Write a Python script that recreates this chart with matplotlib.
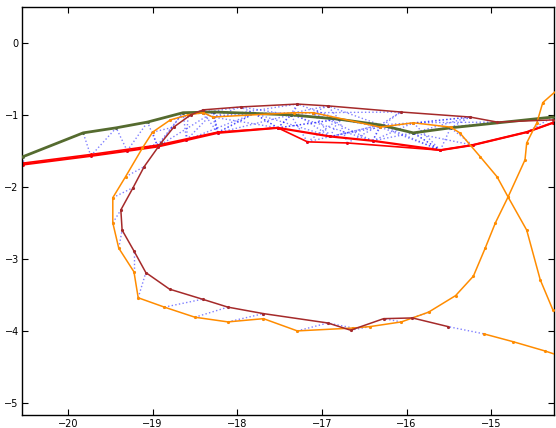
import matplotlib
matplotlib.use("Agg")
import matplotlib.pyplot as plt

# ── Trajectories (x, y) ───────────────────────────────────────────────────────

orange_x = [-15.09, -14.74, -14.36, -14.00, -14.10, -14.245, -14.39, -14.46, -14.58, -14.60,
            -14.80, -14.95, -15.07, -15.21, -15.42, -15.74, -16.06, -16.43, -16.63, -17.29,
            -17.69, -18.11, -18.50, -18.86, -19.17, -19.22, -19.40, -19.47, -19.47, -19.32,
            -19.12, -19.00, -18.79, -18.58, -18.40, -18.29, -17.33, -17.10, -16.31, -15.92,
            -15.48, -15.37, -15.13, -14.93, -14.80, -14.58, -14.42, -14.27, -14.10]
orange_y = [-4.04, -4.15, -4.28, -4.42, -0.53, -0.68, -0.83, -1.11, -1.39, -1.625,
            -2.14, -2.50, -2.85, -3.24, -3.51, -3.74, -3.875, -3.94, -3.96, -4.00,
            -3.83, -3.875, -3.81, -3.67, -3.54, -3.18, -2.85, -2.50, -2.15, -1.86,
            -1.46, -1.24, -1.07, -1.00, -0.97, -1.03, -0.97, -0.97, -1.17, -1.11,
            -1.17, -1.25, -1.58, -1.86, -2.14, -2.60, -3.29, -3.71, -3.95]

brown_x = [-14.27, -14.93, -15.25, -16.07, -16.93, -17.29, -17.96, -18.40, -18.55, -18.75,
           -18.90, -19.10, -19.23, -19.375, -19.36, -19.22, -19.08, -18.80, -18.41, -18.11,
           -17.69, -16.93, -16.66, -16.27, -15.93, -15.51]
brown_y = [-1.07, -1.10, -1.03, -0.96, -0.875, -0.85, -0.89, -0.93, -1.00, -1.17,
           -1.39, -1.72, -2.01, -2.32, -2.60, -2.89, -3.19, -3.42, -3.56, -3.67,
           -3.76, -3.89, -3.99, -3.83, -3.82, -3.94]

green_x = [-20.70, -20.53, -19.82, -19.43, -19.06, -18.64, -18.28, -17.80, -17.37, -16.80,
           -16.31, -15.92, -15.48, -14.27, -14.10]
green_y = [-1.65, -1.58, -1.25, -1.18, -1.10, -0.97, -0.96, -0.98, -1.00, -1.06,
           -1.14, -1.25, -1.18, -1.03, -1.01]

red_x = [-20.70, -20.53, -19.73, -19.30, -18.94, -18.60, -18.23, -17.52, -16.90, -16.40,
         -15.60, -15.22, -14.58, -14.27, -14.10]
red_y = [-1.72, -1.69, -1.57, -1.50, -1.44, -1.35, -1.25, -1.18, -1.30, -1.36,
         -1.49, -1.42, -1.24, -1.11, -1.05]

red2_x = [-20.70, -20.53, -19.73, -18.94, -18.23, -17.52, -17.17, -16.70, -15.60, -15.22,
          -14.58, -14.27, -14.10]
red2_y = [-1.70, -1.67, -1.55, -1.42, -1.24, -1.18, -1.375, -1.39, -1.49, -1.42,
          -1.24, -1.11, -1.05]

# ── Correspondences drawn as blue dotted links (index pairs) ──────────────────

orange_brown_links = [(0, 25), (15, 24), (16, 23), (17, 22), (18, 21), (19, 21), (20, 20),
                      (21, 20), (22, 19), (23, 18), (24, 16), (25, 15), (26, 14), (27, 13),
                      (28, 12), (29, 11), (30, 10), (31, 9), (32, 8), (33, 7), (34, 7),
                      (35, 6), (35, 5), (36, 4), (37, 3), (38, 3), (39, 2), (40, 1),
                      (34, 6), (36, 5), (37, 4), (38, 2), (39, 1)]
red_green_links = [(1, 1), (2, 2), (2, 3), (3, 3), (3, 4), (4, 4), (4, 5), (5, 5), (5, 6),
                   (6, 6), (6, 7), (7, 7), (7, 8), (8, 7), (8, 9), (9, 8), (9, 10), (10, 10),
                   (10, 11), (11, 12), (10, 12), (12, 13), (11, 11), (6, 8), (7, 9),
                   (8, 10), (9, 11), (5, 7), (4, 6)]
red2_green_links = [(3, 5), (4, 6), (5, 7), (6, 8), (6, 9), (7, 9), (7, 10), (8, 11),
                    (5, 9), (6, 10), (4, 7)]
red_orange_links = [(6, 34), (7, 35), (7, 36), (8, 36), (8, 37), (9, 37), (9, 38), (10, 39),
                    (5, 33), (4, 31), (3, 30), (6, 35), (8, 38), (9, 39), (10, 38)]
green_orange_links = [(6, 35), (7, 36), (8, 37), (9, 38), (10, 39), (7, 35), (9, 37),
                      (5, 34), (11, 40)]
green_brown_links = [(6, 7), (7, 6), (8, 5), (9, 4), (10, 3), (11, 2), (8, 6), (9, 5),
                     (10, 4), (12, 2)]

C_ORANGE = "#ff8c00"
C_BROWN  = "#a52a2a"
C_GREEN  = "#556b2f"
C_RED    = "#ff0000"
C_LINK   = "#0000ff"

fig = plt.figure(figsize=(5.56, 4.28), dpi=100)
ax = fig.add_axes([0.040, 0.030, 0.956, 0.954])


def draw_links(pairs, ax_, ay_, bx_, by_):
    for i, j in pairs:
        ax.plot([ax_[i], bx_[j]], [ay_[i], by_[j]], linestyle=":", color=C_LINK,
                alpha=0.5, linewidth=1.0, marker=".", markersize=1.5, zorder=1)


draw_links(orange_brown_links, orange_x, orange_y, brown_x, brown_y)
draw_links(red_green_links, red_x, red_y, green_x, green_y)
draw_links(red2_green_links, red2_x, red2_y, green_x, green_y)
draw_links(red_orange_links, red_x, red_y, orange_x, orange_y)
draw_links(green_orange_links, green_x, green_y, orange_x, orange_y)
draw_links(green_brown_links, green_x, green_y, brown_x, brown_y)

ax.plot(red_x, red_y, color=C_RED, linewidth=1.6, marker=".", markersize=2, zorder=2)
ax.plot(red2_x, red2_y, color=C_RED, linewidth=1.2, marker=".", markersize=2, zorder=2)
ax.plot(green_x, green_y, color=C_GREEN, linewidth=2.0, marker=".", markersize=2, zorder=3)
ax.plot(orange_x, orange_y, color=C_ORANGE, linewidth=1.1, marker=".", markersize=2.5, zorder=3)
ax.plot(brown_x, brown_y, color=C_BROWN, linewidth=1.1, marker=".", markersize=2.5, zorder=3)

ax.set_xlim(-20.54, -14.26)
ax.set_ylim(-5.17, 0.5)
ax.set_xticks([-20, -19, -18, -17, -16, -15])
ax.set_yticks([0, -1, -2, -3, -4, -5])
ax.tick_params(direction="in", top=True, right=True, length=4, labelsize=7, pad=2.5)
for s in ax.spines.values():
    s.set_linewidth(1.0)

fig.savefig("out.png", dpi=100, facecolor="white")
